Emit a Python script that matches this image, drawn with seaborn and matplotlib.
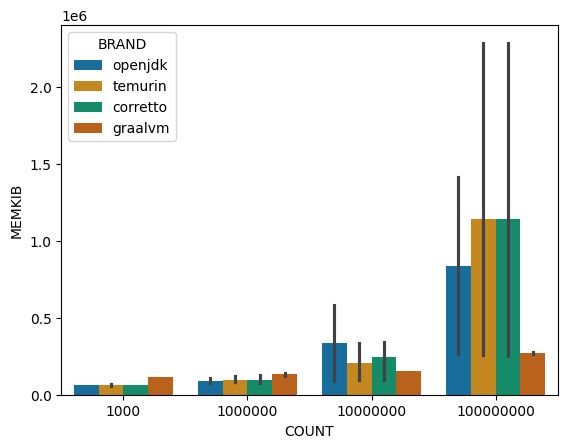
import pandas as pd
import matplotlib
matplotlib.use("Agg")
import matplotlib.pyplot as plt
import seaborn as sns

# three runs per (count, brand), memory in KiB
counts = ["1000", "1000000", "10000000", "100000000"]
brands = ["openjdk", "temurin", "corretto", "graalvm"]

openjdk = [
    [67000, 67000, 67000],
    [78000, 91000, 110000],
    [91000, 343000, 583000],
    [266000, 833000, 1418000],
]
temurin = [
    [58000, 71000, 72000],
    [84000, 90000, 123000],
    [97000, 193000, 337000],
    [259000, 883000, 2287000],
]
corretto = [
    [67000, 67000, 67000],
    [78000, 90000, 129000],
    [97000, 304000, 343000],
    [253000, 889000, 2287000],
]
graalvm = [
    [119000, 119000, 119000],
    [128000, 142000, 144000],
    [158000, 158000, 158000],
    [266000, 278000, 278000],
]

rows = []
for brand, runs in zip(brands, [openjdk, temurin, corretto, graalvm]):
    for count, vals in zip(counts, runs):
        for v in vals:
            rows.append({"COUNT": count, "BRAND": brand, "MEMKIB": v})
df = pd.DataFrame(rows)

fig, ax = plt.subplots(figsize=(5.67, 4.48), dpi=100)
fig.subplots_adjust(left=0.1081, right=0.9836, bottom=0.1176, top=0.9435)
sns.barplot(data=df, x="COUNT", y="MEMKIB", hue="BRAND", order=counts,
            hue_order=brands, palette="colorblind", errorbar=("pi", 100), ax=ax)
sns.move_legend(ax, "upper left")
plt.savefig("out.png", dpi=100)
